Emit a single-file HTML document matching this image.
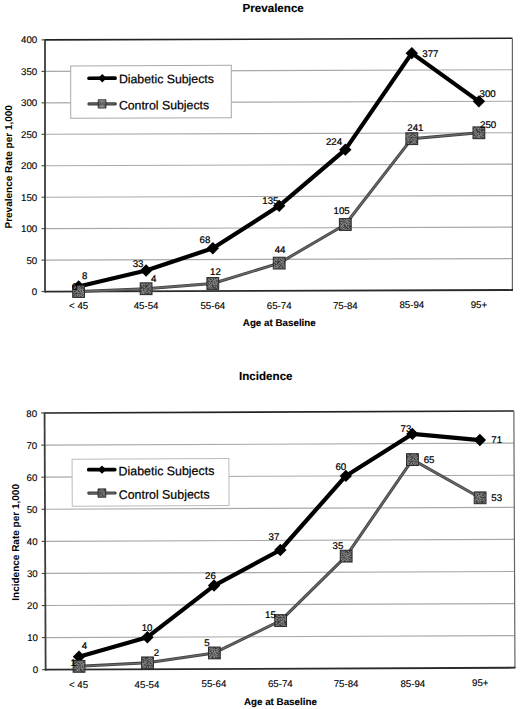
<!DOCTYPE html>
<html><head><meta charset="utf-8"><style>
html,body{margin:0;padding:0;background:#fff;}
body{width:520px;height:709px;overflow:hidden;}
svg{display:block;font-family:"Liberation Sans", sans-serif;text-rendering:geometricPrecision;}
</style></head><body>
<svg width="520" height="709" viewBox="0 0 520 709" fill="#000">
<defs><pattern id="tex" width="12" height="12" patternUnits="userSpaceOnUse"><rect x="0" y="0" width="1" height="1" fill="#484848"/><rect x="1" y="0" width="1" height="1" fill="#6c6c6c"/><rect x="2" y="0" width="1" height="1" fill="#6c6c6c"/><rect x="3" y="0" width="1" height="1" fill="#484848"/><rect x="4" y="0" width="1" height="1" fill="#545454"/><rect x="5" y="0" width="1" height="1" fill="#6c6c6c"/><rect x="6" y="0" width="1" height="1" fill="#606060"/><rect x="7" y="0" width="1" height="1" fill="#787878"/><rect x="8" y="0" width="1" height="1" fill="#6c6c6c"/><rect x="9" y="0" width="1" height="1" fill="#3c3c3c"/><rect x="10" y="0" width="1" height="1" fill="#6c6c6c"/><rect x="11" y="0" width="1" height="1" fill="#3c3c3c"/><rect x="0" y="1" width="1" height="1" fill="#848484"/><rect x="1" y="1" width="1" height="1" fill="#606060"/><rect x="2" y="1" width="1" height="1" fill="#545454"/><rect x="3" y="1" width="1" height="1" fill="#6c6c6c"/><rect x="4" y="1" width="1" height="1" fill="#484848"/><rect x="5" y="1" width="1" height="1" fill="#484848"/><rect x="6" y="1" width="1" height="1" fill="#787878"/><rect x="7" y="1" width="1" height="1" fill="#606060"/><rect x="8" y="1" width="1" height="1" fill="#6c6c6c"/><rect x="9" y="1" width="1" height="1" fill="#848484"/><rect x="10" y="1" width="1" height="1" fill="#6c6c6c"/><rect x="11" y="1" width="1" height="1" fill="#606060"/><rect x="0" y="2" width="1" height="1" fill="#606060"/><rect x="1" y="2" width="1" height="1" fill="#787878"/><rect x="2" y="2" width="1" height="1" fill="#848484"/><rect x="3" y="2" width="1" height="1" fill="#484848"/><rect x="4" y="2" width="1" height="1" fill="#484848"/><rect x="5" y="2" width="1" height="1" fill="#787878"/><rect x="6" y="2" width="1" height="1" fill="#484848"/><rect x="7" y="2" width="1" height="1" fill="#848484"/><rect x="8" y="2" width="1" height="1" fill="#6c6c6c"/><rect x="9" y="2" width="1" height="1" fill="#606060"/><rect x="10" y="2" width="1" height="1" fill="#787878"/><rect x="11" y="2" width="1" height="1" fill="#3c3c3c"/><rect x="0" y="3" width="1" height="1" fill="#787878"/><rect x="1" y="3" width="1" height="1" fill="#848484"/><rect x="2" y="3" width="1" height="1" fill="#3c3c3c"/><rect x="3" y="3" width="1" height="1" fill="#484848"/><rect x="4" y="3" width="1" height="1" fill="#848484"/><rect x="5" y="3" width="1" height="1" fill="#6c6c6c"/><rect x="6" y="3" width="1" height="1" fill="#3c3c3c"/><rect x="7" y="3" width="1" height="1" fill="#545454"/><rect x="8" y="3" width="1" height="1" fill="#848484"/><rect x="9" y="3" width="1" height="1" fill="#3c3c3c"/><rect x="10" y="3" width="1" height="1" fill="#848484"/><rect x="11" y="3" width="1" height="1" fill="#848484"/><rect x="0" y="4" width="1" height="1" fill="#545454"/><rect x="1" y="4" width="1" height="1" fill="#606060"/><rect x="2" y="4" width="1" height="1" fill="#6c6c6c"/><rect x="3" y="4" width="1" height="1" fill="#787878"/><rect x="4" y="4" width="1" height="1" fill="#606060"/><rect x="5" y="4" width="1" height="1" fill="#787878"/><rect x="6" y="4" width="1" height="1" fill="#848484"/><rect x="7" y="4" width="1" height="1" fill="#606060"/><rect x="8" y="4" width="1" height="1" fill="#606060"/><rect x="9" y="4" width="1" height="1" fill="#787878"/><rect x="10" y="4" width="1" height="1" fill="#848484"/><rect x="11" y="4" width="1" height="1" fill="#6c6c6c"/><rect x="0" y="5" width="1" height="1" fill="#606060"/><rect x="1" y="5" width="1" height="1" fill="#484848"/><rect x="2" y="5" width="1" height="1" fill="#545454"/><rect x="3" y="5" width="1" height="1" fill="#3c3c3c"/><rect x="4" y="5" width="1" height="1" fill="#3c3c3c"/><rect x="5" y="5" width="1" height="1" fill="#484848"/><rect x="6" y="5" width="1" height="1" fill="#606060"/><rect x="7" y="5" width="1" height="1" fill="#484848"/><rect x="8" y="5" width="1" height="1" fill="#545454"/><rect x="9" y="5" width="1" height="1" fill="#787878"/><rect x="10" y="5" width="1" height="1" fill="#606060"/><rect x="11" y="5" width="1" height="1" fill="#848484"/><rect x="0" y="6" width="1" height="1" fill="#787878"/><rect x="1" y="6" width="1" height="1" fill="#848484"/><rect x="2" y="6" width="1" height="1" fill="#545454"/><rect x="3" y="6" width="1" height="1" fill="#606060"/><rect x="4" y="6" width="1" height="1" fill="#6c6c6c"/><rect x="5" y="6" width="1" height="1" fill="#848484"/><rect x="6" y="6" width="1" height="1" fill="#606060"/><rect x="7" y="6" width="1" height="1" fill="#6c6c6c"/><rect x="8" y="6" width="1" height="1" fill="#545454"/><rect x="9" y="6" width="1" height="1" fill="#6c6c6c"/><rect x="10" y="6" width="1" height="1" fill="#6c6c6c"/><rect x="11" y="6" width="1" height="1" fill="#606060"/><rect x="0" y="7" width="1" height="1" fill="#6c6c6c"/><rect x="1" y="7" width="1" height="1" fill="#484848"/><rect x="2" y="7" width="1" height="1" fill="#545454"/><rect x="3" y="7" width="1" height="1" fill="#787878"/><rect x="4" y="7" width="1" height="1" fill="#3c3c3c"/><rect x="5" y="7" width="1" height="1" fill="#848484"/><rect x="6" y="7" width="1" height="1" fill="#545454"/><rect x="7" y="7" width="1" height="1" fill="#6c6c6c"/><rect x="8" y="7" width="1" height="1" fill="#787878"/><rect x="9" y="7" width="1" height="1" fill="#787878"/><rect x="10" y="7" width="1" height="1" fill="#484848"/><rect x="11" y="7" width="1" height="1" fill="#787878"/><rect x="0" y="8" width="1" height="1" fill="#848484"/><rect x="1" y="8" width="1" height="1" fill="#545454"/><rect x="2" y="8" width="1" height="1" fill="#6c6c6c"/><rect x="3" y="8" width="1" height="1" fill="#6c6c6c"/><rect x="4" y="8" width="1" height="1" fill="#6c6c6c"/><rect x="5" y="8" width="1" height="1" fill="#3c3c3c"/><rect x="6" y="8" width="1" height="1" fill="#787878"/><rect x="7" y="8" width="1" height="1" fill="#787878"/><rect x="8" y="8" width="1" height="1" fill="#484848"/><rect x="9" y="8" width="1" height="1" fill="#787878"/><rect x="10" y="8" width="1" height="1" fill="#848484"/><rect x="11" y="8" width="1" height="1" fill="#6c6c6c"/><rect x="0" y="9" width="1" height="1" fill="#545454"/><rect x="1" y="9" width="1" height="1" fill="#545454"/><rect x="2" y="9" width="1" height="1" fill="#3c3c3c"/><rect x="3" y="9" width="1" height="1" fill="#3c3c3c"/><rect x="4" y="9" width="1" height="1" fill="#606060"/><rect x="5" y="9" width="1" height="1" fill="#848484"/><rect x="6" y="9" width="1" height="1" fill="#787878"/><rect x="7" y="9" width="1" height="1" fill="#606060"/><rect x="8" y="9" width="1" height="1" fill="#3c3c3c"/><rect x="9" y="9" width="1" height="1" fill="#545454"/><rect x="10" y="9" width="1" height="1" fill="#848484"/><rect x="11" y="9" width="1" height="1" fill="#3c3c3c"/><rect x="0" y="10" width="1" height="1" fill="#606060"/><rect x="1" y="10" width="1" height="1" fill="#484848"/><rect x="2" y="10" width="1" height="1" fill="#3c3c3c"/><rect x="3" y="10" width="1" height="1" fill="#545454"/><rect x="4" y="10" width="1" height="1" fill="#606060"/><rect x="5" y="10" width="1" height="1" fill="#848484"/><rect x="6" y="10" width="1" height="1" fill="#606060"/><rect x="7" y="10" width="1" height="1" fill="#848484"/><rect x="8" y="10" width="1" height="1" fill="#3c3c3c"/><rect x="9" y="10" width="1" height="1" fill="#3c3c3c"/><rect x="10" y="10" width="1" height="1" fill="#6c6c6c"/><rect x="11" y="10" width="1" height="1" fill="#6c6c6c"/><rect x="0" y="11" width="1" height="1" fill="#848484"/><rect x="1" y="11" width="1" height="1" fill="#3c3c3c"/><rect x="2" y="11" width="1" height="1" fill="#606060"/><rect x="3" y="11" width="1" height="1" fill="#787878"/><rect x="4" y="11" width="1" height="1" fill="#6c6c6c"/><rect x="5" y="11" width="1" height="1" fill="#545454"/><rect x="6" y="11" width="1" height="1" fill="#6c6c6c"/><rect x="7" y="11" width="1" height="1" fill="#545454"/><rect x="8" y="11" width="1" height="1" fill="#6c6c6c"/><rect x="9" y="11" width="1" height="1" fill="#484848"/><rect x="10" y="11" width="1" height="1" fill="#3c3c3c"/><rect x="11" y="11" width="1" height="1" fill="#545454"/></pattern></defs>
<rect width="520" height="709" fill="#fff"/>
<line x1="45.00" y1="260.14" x2="512.40" y2="258.55" stroke="#a8a8a8" stroke-width="1.15"/>
<line x1="45.00" y1="228.68" x2="512.40" y2="227.09" stroke="#a8a8a8" stroke-width="1.15"/>
<line x1="45.00" y1="197.21" x2="512.40" y2="195.62" stroke="#a8a8a8" stroke-width="1.15"/>
<line x1="45.00" y1="165.75" x2="512.40" y2="164.16" stroke="#a8a8a8" stroke-width="1.15"/>
<line x1="45.00" y1="134.29" x2="512.40" y2="132.70" stroke="#a8a8a8" stroke-width="1.15"/>
<line x1="45.00" y1="102.83" x2="512.40" y2="101.24" stroke="#a8a8a8" stroke-width="1.15"/>
<line x1="45.00" y1="71.36" x2="512.40" y2="69.77" stroke="#a8a8a8" stroke-width="1.15"/>
<line x1="41.50" y1="291.61" x2="45.00" y2="291.60" stroke="#333" stroke-width="1"/>
<text x="37.20" y="295.13" text-anchor="end" font-size="9.7" stroke="#000" stroke-width="0.12">0</text>
<line x1="41.50" y1="260.15" x2="45.00" y2="260.14" stroke="#333" stroke-width="1"/>
<text x="37.20" y="263.66" text-anchor="end" font-size="9.7" stroke="#000" stroke-width="0.12">50</text>
<line x1="41.50" y1="228.69" x2="45.00" y2="228.68" stroke="#333" stroke-width="1"/>
<text x="37.20" y="232.20" text-anchor="end" font-size="9.7" stroke="#000" stroke-width="0.12">100</text>
<line x1="41.50" y1="197.22" x2="45.00" y2="197.21" stroke="#333" stroke-width="1"/>
<text x="37.20" y="200.74" text-anchor="end" font-size="9.7" stroke="#000" stroke-width="0.12">150</text>
<line x1="41.50" y1="165.76" x2="45.00" y2="165.75" stroke="#333" stroke-width="1"/>
<text x="37.20" y="169.28" text-anchor="end" font-size="9.7" stroke="#000" stroke-width="0.12">200</text>
<line x1="41.50" y1="134.30" x2="45.00" y2="134.29" stroke="#333" stroke-width="1"/>
<text x="37.20" y="137.81" text-anchor="end" font-size="9.7" stroke="#000" stroke-width="0.12">250</text>
<line x1="41.50" y1="102.84" x2="45.00" y2="102.83" stroke="#333" stroke-width="1"/>
<text x="37.20" y="106.35" text-anchor="end" font-size="9.7" stroke="#000" stroke-width="0.12">300</text>
<line x1="41.50" y1="71.37" x2="45.00" y2="71.36" stroke="#333" stroke-width="1"/>
<text x="37.20" y="74.89" text-anchor="end" font-size="9.7" stroke="#000" stroke-width="0.12">350</text>
<line x1="41.50" y1="39.91" x2="45.00" y2="39.90" stroke="#333" stroke-width="1"/>
<text x="37.20" y="43.43" text-anchor="end" font-size="9.7" stroke="#000" stroke-width="0.12">400</text>
<line x1="45.00" y1="39.90" x2="512.40" y2="38.31" stroke="#222" stroke-width="1.6"/>
<line x1="512.40" y1="38.31" x2="512.40" y2="290.01" stroke="#666" stroke-width="1.2"/>
<line x1="45.00" y1="39.10" x2="45.00" y2="292.60" stroke="#3c3c3c" stroke-width="1.8"/>
<line x1="45.00" y1="291.60" x2="513.00" y2="290.01" stroke="#2a2a2a" stroke-width="1.8"/>
<g transform="matrix(1,-0.0034,0,1,0,0.153)">
<rect x="70.7" y="66.0" width="160.6" height="52.3" fill="#fff" stroke="#a8a8a8" stroke-width="1"/>
<line x1="89" y1="78.4" x2="115.1" y2="78.4" stroke="#000" stroke-width="3.7" stroke-linecap="round"/>
<polygon points="102.3,74.2 106.5,78.4 102.3,82.60000000000001 98.1,78.4" fill="#000"/>
<line x1="89" y1="104.1" x2="115.3" y2="104.1" stroke="#3a3a3a" stroke-width="3.2" stroke-linecap="round"/>
<line x1="89" y1="104.1" x2="115.3" y2="104.1" stroke="#666" stroke-width="1.3"/>
<rect x="98.2" y="99.89999999999999" width="7.8" height="8.4" fill="url(#tex)" stroke="#222" stroke-width="0.8"/>
<text x="118.9" y="83.6" font-size="12.3" stroke="#000" stroke-width="0.22">Diabetic Subjects</text>
<text x="118.9" y="109.8" font-size="12.3" stroke="#000" stroke-width="0.22">Control Subjects</text>
</g>
<polyline points="78.60,286.45 146.10,270.49 212.80,248.24 279.20,205.85 345.30,149.63 411.80,53.13 478.90,101.35" fill="none" stroke="#000" stroke-width="4.2" stroke-linejoin="round"/>
<polygon points="78.60,280.25 84.80,286.45 78.60,292.65 72.40,286.45" fill="#000"/>
<polygon points="146.10,264.29 152.30,270.49 146.10,276.69 139.90,270.49" fill="#000"/>
<polygon points="212.80,242.04 219.00,248.24 212.80,254.44 206.60,248.24" fill="#000"/>
<polygon points="279.20,199.65 285.40,205.85 279.20,212.05 273.00,205.85" fill="#000"/>
<polygon points="345.30,143.43 351.50,149.63 345.30,155.83 339.10,149.63" fill="#000"/>
<polygon points="411.80,46.93 418.00,53.13 411.80,59.33 405.60,53.13" fill="#000"/>
<polygon points="478.90,95.15 485.10,101.35 478.90,107.55 472.70,101.35" fill="#000"/>
<polyline points="78.60,291.49 146.10,288.74 212.80,283.48 279.20,263.12 345.30,224.51 411.80,138.70 478.90,132.81" fill="none" stroke="#404040" stroke-width="3.0" stroke-linejoin="round"/>
<polyline points="78.60,291.49 146.10,288.74 212.80,283.48 279.20,263.12 345.30,224.51 411.80,138.70 478.90,132.81" fill="none" stroke="#6a6a6a" stroke-width="1.3" stroke-linejoin="round"/>
<rect x="72.70" y="285.59" width="11.80" height="11.80" fill="url(#tex)" stroke="#2a2a2a" stroke-width="1"/>
<rect x="140.20" y="282.84" width="11.80" height="11.80" fill="url(#tex)" stroke="#2a2a2a" stroke-width="1"/>
<rect x="206.90" y="277.58" width="11.80" height="11.80" fill="url(#tex)" stroke="#2a2a2a" stroke-width="1"/>
<rect x="273.30" y="257.22" width="11.80" height="11.80" fill="url(#tex)" stroke="#2a2a2a" stroke-width="1"/>
<rect x="339.40" y="218.61" width="11.80" height="11.80" fill="url(#tex)" stroke="#2a2a2a" stroke-width="1"/>
<rect x="405.90" y="132.80" width="11.80" height="11.80" fill="url(#tex)" stroke="#2a2a2a" stroke-width="1"/>
<rect x="473.00" y="126.91" width="11.80" height="11.80" fill="url(#tex)" stroke="#2a2a2a" stroke-width="1"/>
<text x="82.1" y="279.4" font-size="9.7" stroke="#000" stroke-width="0.22">8</text>
<text x="132.7" y="266.6" font-size="9.7" stroke="#000" stroke-width="0.22">33</text>
<text x="199.6" y="242.7" font-size="9.7" stroke="#000" stroke-width="0.22">68</text>
<text x="262.3" y="204.3" font-size="9.7" stroke="#000" stroke-width="0.22">135</text>
<text x="325.9" y="145.3" font-size="9.7" stroke="#000" stroke-width="0.22">224</text>
<text x="422.3" y="56.5" font-size="9.7" stroke="#000" stroke-width="0.22">377</text>
<text x="479.6" y="96.6" font-size="9.7" stroke="#000" stroke-width="0.22">300</text>
<text x="71.9" y="290" font-size="9.7" stroke="#000" stroke-width="0.22">0</text>
<text x="151.1" y="281.7" font-size="9.7" stroke="#000" stroke-width="0.22">4</text>
<text x="210" y="275" font-size="9.7" stroke="#000" stroke-width="0.22">12</text>
<text x="274.7" y="253.1" font-size="9.7" stroke="#000" stroke-width="0.22">44</text>
<text x="333.5" y="214.2" font-size="9.7" stroke="#000" stroke-width="0.22">105</text>
<text x="407.3" y="131.3" font-size="9.7" stroke="#000" stroke-width="0.22">241</text>
<text x="480" y="128" font-size="9.7" stroke="#000" stroke-width="0.22">250</text>
<text x="78.60" y="309.13" text-anchor="middle" font-size="9.7" stroke="#000" stroke-width="0.12">&lt; 45</text>
<text x="146.10" y="309.00" text-anchor="middle" font-size="9.7" stroke="#000" stroke-width="0.12">45-54</text>
<text x="212.80" y="308.86" text-anchor="middle" font-size="9.7" stroke="#000" stroke-width="0.12">55-64</text>
<text x="279.20" y="308.73" text-anchor="middle" font-size="9.7" stroke="#000" stroke-width="0.12">65-74</text>
<text x="345.30" y="308.60" text-anchor="middle" font-size="9.7" stroke="#000" stroke-width="0.12">75-84</text>
<text x="411.80" y="308.47" text-anchor="middle" font-size="9.7" stroke="#000" stroke-width="0.12">85-94</text>
<text x="478.90" y="308.33" text-anchor="middle" font-size="9.7" stroke="#000" stroke-width="0.12">95+</text>
<text x="279.3" y="326.2" text-anchor="middle" font-size="9.8" font-weight="bold" stroke="#000" stroke-width="0.12">Age at Baseline</text>
<text x="273.2" y="11.9" text-anchor="middle" font-size="11.6" font-weight="bold" stroke="#000" stroke-width="0.12">Prevalence</text>
<text transform="translate(12.2,166.8) rotate(-90)" text-anchor="middle" font-size="10" font-weight="bold">Prevalence Rate per 1,000</text>
<line x1="45.51" y1="637.61" x2="514.80" y2="635.64" stroke="#a8a8a8" stroke-width="1.15"/>
<line x1="45.37" y1="605.52" x2="514.67" y2="603.55" stroke="#a8a8a8" stroke-width="1.15"/>
<line x1="45.24" y1="573.44" x2="514.53" y2="571.47" stroke="#a8a8a8" stroke-width="1.15"/>
<line x1="45.10" y1="541.35" x2="514.40" y2="539.38" stroke="#a8a8a8" stroke-width="1.15"/>
<line x1="44.97" y1="509.26" x2="514.26" y2="507.29" stroke="#a8a8a8" stroke-width="1.15"/>
<line x1="44.83" y1="477.18" x2="514.13" y2="475.20" stroke="#a8a8a8" stroke-width="1.15"/>
<line x1="44.70" y1="445.09" x2="513.99" y2="443.12" stroke="#a8a8a8" stroke-width="1.15"/>
<line x1="42.14" y1="669.71" x2="45.64" y2="669.70" stroke="#333" stroke-width="1"/>
<text x="38.14" y="673.23" text-anchor="end" font-size="9.7" stroke="#000" stroke-width="0.12">0</text>
<line x1="42.01" y1="637.63" x2="45.51" y2="637.61" stroke="#333" stroke-width="1"/>
<text x="38.01" y="641.14" text-anchor="end" font-size="9.7" stroke="#000" stroke-width="0.12">10</text>
<line x1="41.87" y1="605.54" x2="45.37" y2="605.52" stroke="#333" stroke-width="1"/>
<text x="37.87" y="609.06" text-anchor="end" font-size="9.7" stroke="#000" stroke-width="0.12">20</text>
<line x1="41.74" y1="573.45" x2="45.24" y2="573.44" stroke="#333" stroke-width="1"/>
<text x="37.74" y="576.97" text-anchor="end" font-size="9.7" stroke="#000" stroke-width="0.12">30</text>
<line x1="41.60" y1="541.36" x2="45.10" y2="541.35" stroke="#333" stroke-width="1"/>
<text x="37.60" y="544.88" text-anchor="end" font-size="9.7" stroke="#000" stroke-width="0.12">40</text>
<line x1="41.47" y1="509.28" x2="44.97" y2="509.26" stroke="#333" stroke-width="1"/>
<text x="37.47" y="512.79" text-anchor="end" font-size="9.7" stroke="#000" stroke-width="0.12">50</text>
<line x1="41.33" y1="477.19" x2="44.83" y2="477.18" stroke="#333" stroke-width="1"/>
<text x="37.33" y="480.71" text-anchor="end" font-size="9.7" stroke="#000" stroke-width="0.12">60</text>
<line x1="41.20" y1="445.10" x2="44.70" y2="445.09" stroke="#333" stroke-width="1"/>
<text x="37.20" y="448.62" text-anchor="end" font-size="9.7" stroke="#000" stroke-width="0.12">70</text>
<line x1="41.06" y1="413.02" x2="44.56" y2="413.00" stroke="#333" stroke-width="1"/>
<text x="37.06" y="416.53" text-anchor="end" font-size="9.7" stroke="#000" stroke-width="0.12">80</text>
<line x1="44.56" y1="413.00" x2="513.86" y2="411.03" stroke="#222" stroke-width="1.6"/>
<line x1="513.86" y1="411.03" x2="514.94" y2="667.73" stroke="#666" stroke-width="1.2"/>
<line x1="44.56" y1="412.20" x2="45.64" y2="670.70" stroke="#3c3c3c" stroke-width="1.8"/>
<line x1="45.64" y1="669.70" x2="515.54" y2="667.72" stroke="#2a2a2a" stroke-width="1.8"/>
<g transform="rotate(-0.24,45,541)">
<rect x="72.4" y="459.3" width="156.8" height="47.0" fill="#fff" stroke="#bbb" stroke-width="1"/>
<line x1="89" y1="469.9" x2="115.1" y2="469.9" stroke="#000" stroke-width="3.7" stroke-linecap="round"/>
<polygon points="102.3,465.7 106.5,469.9 102.3,474.09999999999997 98.1,469.9" fill="#000"/>
<line x1="89" y1="493.3" x2="115.3" y2="493.3" stroke="#3a3a3a" stroke-width="3.2" stroke-linecap="round"/>
<line x1="89" y1="493.3" x2="115.3" y2="493.3" stroke="#666" stroke-width="1.3"/>
<rect x="98.2" y="489.1" width="7.8" height="8.4" fill="url(#tex)" stroke="#222" stroke-width="0.8"/>
<text x="118.9" y="475.7" font-size="12.4" stroke="#000" stroke-width="0.22">Diabetic Subjects</text>
<text x="118.9" y="499.2" font-size="12.4" stroke="#000" stroke-width="0.22">Control Subjects</text>
</g>
<polyline points="78.99,656.72 147.40,637.18 214.09,585.56 280.34,549.99 345.83,475.91 412.35,433.92 479.88,440.05" fill="none" stroke="#000" stroke-width="4.2" stroke-linejoin="round"/>
<polygon points="78.99,650.52 85.19,656.72 78.99,662.92 72.79,656.72" fill="#000"/>
<polygon points="147.40,630.98 153.60,637.18 147.40,643.38 141.20,637.18" fill="#000"/>
<polygon points="214.09,579.36 220.29,585.56 214.09,591.76 207.89,585.56" fill="#000"/>
<polygon points="280.34,543.79 286.54,549.99 280.34,556.19 274.14,549.99" fill="#000"/>
<polygon points="345.83,469.71 352.03,475.91 345.83,482.11 339.63,475.91" fill="#000"/>
<polygon points="412.35,427.72 418.55,433.92 412.35,440.12 406.15,433.92" fill="#000"/>
<polygon points="479.88,433.85 486.08,440.05 479.88,446.25 473.68,440.05" fill="#000"/>
<polyline points="79.03,666.35 147.51,662.85 214.37,652.95 280.64,620.58 346.17,556.13 412.46,459.59 480.12,497.81" fill="none" stroke="#404040" stroke-width="3.0" stroke-linejoin="round"/>
<polyline points="79.03,666.35 147.51,662.85 214.37,652.95 280.64,620.58 346.17,556.13 412.46,459.59 480.12,497.81" fill="none" stroke="#6a6a6a" stroke-width="1.3" stroke-linejoin="round"/>
<rect x="73.13" y="660.45" width="11.80" height="11.80" fill="url(#tex)" stroke="#2a2a2a" stroke-width="1"/>
<rect x="141.61" y="656.95" width="11.80" height="11.80" fill="url(#tex)" stroke="#2a2a2a" stroke-width="1"/>
<rect x="208.47" y="647.05" width="11.80" height="11.80" fill="url(#tex)" stroke="#2a2a2a" stroke-width="1"/>
<rect x="274.74" y="614.68" width="11.80" height="11.80" fill="url(#tex)" stroke="#2a2a2a" stroke-width="1"/>
<rect x="340.27" y="550.23" width="11.80" height="11.80" fill="url(#tex)" stroke="#2a2a2a" stroke-width="1"/>
<rect x="406.56" y="453.69" width="11.80" height="11.80" fill="url(#tex)" stroke="#2a2a2a" stroke-width="1"/>
<rect x="474.22" y="491.91" width="11.80" height="11.80" fill="url(#tex)" stroke="#2a2a2a" stroke-width="1"/>
<text x="81.7" y="648.8" font-size="9.7" stroke="#000" stroke-width="0.22">4</text>
<text x="141.7" y="631.2" font-size="9.7" stroke="#000" stroke-width="0.22">10</text>
<text x="205" y="578.9" font-size="9.7" stroke="#000" stroke-width="0.22">26</text>
<text x="268.5" y="540.3" font-size="9.7" stroke="#000" stroke-width="0.22">37</text>
<text x="335.4" y="469.7" font-size="9.7" stroke="#000" stroke-width="0.22">60</text>
<text x="400.5" y="431.5" font-size="9.7" stroke="#000" stroke-width="0.22">73</text>
<text x="491.3" y="443" font-size="9.7" stroke="#000" stroke-width="0.22">71</text>
<text x="70.5" y="666" font-size="9.7" stroke="#000" stroke-width="0.22">1</text>
<text x="153.8" y="656.2" font-size="9.7" stroke="#000" stroke-width="0.22">2</text>
<text x="204.3" y="645.9" font-size="9.7" stroke="#000" stroke-width="0.22">5</text>
<text x="265" y="618.2" font-size="9.7" stroke="#000" stroke-width="0.22">15</text>
<text x="332.6" y="548.9" font-size="9.7" stroke="#000" stroke-width="0.22">35</text>
<text x="423.7" y="462.6" font-size="9.7" stroke="#000" stroke-width="0.22">65</text>
<text x="491.3" y="500.7" font-size="9.7" stroke="#000" stroke-width="0.22">53</text>
<text x="78.50" y="688.06" text-anchor="middle" font-size="9.7" stroke="#000" stroke-width="0.12">&lt; 45</text>
<text x="147.00" y="687.77" text-anchor="middle" font-size="9.7" stroke="#000" stroke-width="0.12">45-54</text>
<text x="213.90" y="687.49" text-anchor="middle" font-size="9.7" stroke="#000" stroke-width="0.12">55-64</text>
<text x="280.30" y="687.21" text-anchor="middle" font-size="9.7" stroke="#000" stroke-width="0.12">65-74</text>
<text x="346.10" y="686.94" text-anchor="middle" font-size="9.7" stroke="#000" stroke-width="0.12">75-84</text>
<text x="412.80" y="686.66" text-anchor="middle" font-size="9.7" stroke="#000" stroke-width="0.12">85-94</text>
<text x="480.30" y="686.37" text-anchor="middle" font-size="9.7" stroke="#000" stroke-width="0.12">95+</text>
<text x="280.4" y="705" text-anchor="middle" font-size="9.8" font-weight="bold" stroke="#000" stroke-width="0.12">Age at Baseline</text>
<text x="265.8" y="380.3" text-anchor="middle" font-size="11.6" font-weight="bold" stroke="#000" stroke-width="0.12">Incidence</text>
<text transform="translate(18.8,542.4) rotate(-90)" text-anchor="middle" font-size="10" font-weight="bold">Incidence Rate per 1,000</text>
</svg>
</body></html>
